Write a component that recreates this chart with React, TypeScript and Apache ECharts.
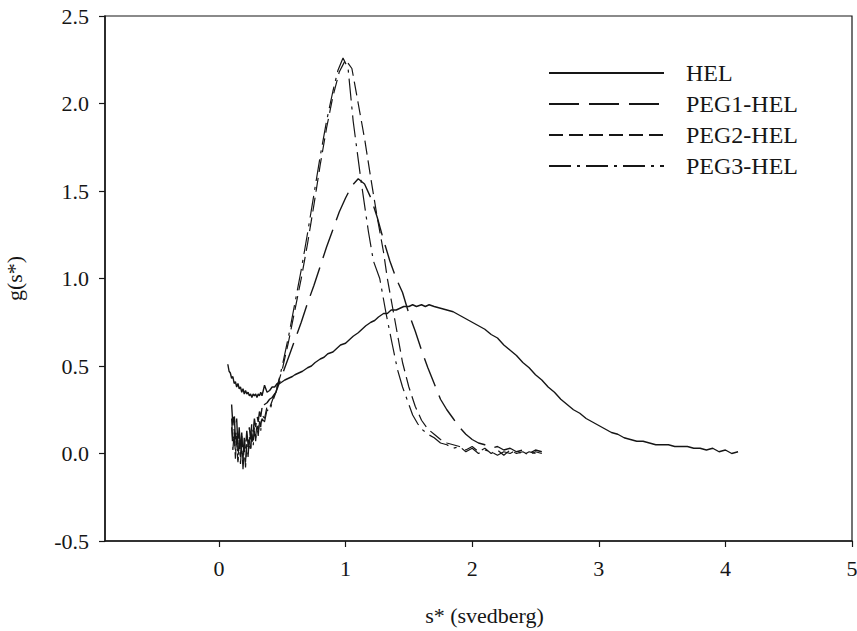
import React, { useEffect, useRef } from "react";
import * as echarts from "echarts";

// ---- data (s* in svedberg, g(s*)) ----
const seriesNames = ["HEL", "PEG1-HEL", "PEG2-HEL", "PEG3-HEL"];

const helData: number[][] = [
  [0.07, 0.51], [0.08, 0.47], [0.09, 0.46], [0.1, 0.43], [0.11, 0.44], [0.12, 0.4], [0.13, 0.41],
  [0.14, 0.38], [0.15, 0.4], [0.16, 0.37], [0.17, 0.38], [0.18, 0.35], [0.19, 0.37], [0.2, 0.34],
  [0.21, 0.36], [0.22, 0.34], [0.23, 0.35], [0.24, 0.33], [0.25, 0.34], [0.26, 0.32], [0.27, 0.34],
  [0.28, 0.33], [0.29, 0.34], [0.3, 0.32], [0.31, 0.34], [0.32, 0.33], [0.33, 0.35], [0.34, 0.33],
  [0.35, 0.36], [0.36, 0.39], [0.37, 0.37], [0.38, 0.35], [0.4, 0.36], [0.42, 0.38], [0.44, 0.38],
  [0.46, 0.4], [0.48, 0.4], [0.5, 0.41], [0.52, 0.42], [0.55, 0.43], [0.58, 0.44], [0.6, 0.45],
  [0.63, 0.46], [0.66, 0.47], [0.7, 0.49], [0.73, 0.5], [0.76, 0.52], [0.8, 0.54], [0.83, 0.55],
  [0.86, 0.57], [0.9, 0.58], [0.93, 0.6], [0.96, 0.62], [1.0, 0.63], [1.03, 0.65], [1.06, 0.67],
  [1.1, 0.69], [1.13, 0.71], [1.16, 0.73], [1.2, 0.75], [1.23, 0.76], [1.26, 0.78], [1.3, 0.8],
  [1.33, 0.8], [1.36, 0.82], [1.4, 0.82], [1.43, 0.83], [1.46, 0.84], [1.5, 0.84], [1.53, 0.85],
  [1.56, 0.84], [1.6, 0.85], [1.63, 0.84], [1.66, 0.85], [1.7, 0.84], [1.75, 0.83], [1.8, 0.82],
  [1.85, 0.81], [1.9, 0.79], [1.95, 0.77], [2.0, 0.75], [2.05, 0.73], [2.1, 0.71], [2.15, 0.68],
  [2.2, 0.66], [2.25, 0.62], [2.3, 0.59], [2.35, 0.56], [2.4, 0.52], [2.45, 0.49], [2.5, 0.45],
  [2.55, 0.42], [2.6, 0.38], [2.65, 0.35], [2.7, 0.31], [2.75, 0.28], [2.8, 0.25], [2.85, 0.23],
  [2.9, 0.2], [2.95, 0.18], [3.0, 0.16], [3.05, 0.14], [3.1, 0.12], [3.15, 0.11], [3.2, 0.09],
  [3.25, 0.08], [3.3, 0.07], [3.35, 0.07], [3.4, 0.06], [3.45, 0.05], [3.5, 0.05], [3.55, 0.05],
  [3.6, 0.04], [3.65, 0.04], [3.7, 0.04], [3.75, 0.03], [3.8, 0.03], [3.85, 0.02], [3.9, 0.03],
  [3.95, 0.01], [4.0, 0.02], [4.05, 0.0], [4.1, 0.01],
];

const peg1Data: number[][] = [
  [0.1, 0.28], [0.11, 0.16], [0.12, 0.24], [0.13, 0.08], [0.14, 0.2], [0.15, 0.04], [0.16, 0.15],
  [0.17, 0.01], [0.18, 0.12], [0.19, -0.02], [0.2, 0.09], [0.21, 0.02], [0.22, 0.13], [0.23, 0.05],
  [0.24, 0.15], [0.25, 0.08], [0.26, 0.18], [0.27, 0.12], [0.28, 0.2], [0.29, 0.15], [0.3, 0.22],
  [0.31, 0.18], [0.32, 0.24], [0.33, 0.21], [0.34, 0.26], [0.35, 0.24], [0.36, 0.28], [0.38, 0.29],
  [0.4, 0.31], [0.42, 0.32], [0.45, 0.35], [0.5, 0.45], [0.55, 0.55], [0.6, 0.65], [0.65, 0.75],
  [0.7, 0.86], [0.75, 0.96], [0.8, 1.07], [0.85, 1.18], [0.9, 1.28], [0.95, 1.38], [1.0, 1.46],
  [1.05, 1.53], [1.1, 1.57], [1.15, 1.54], [1.2, 1.46], [1.25, 1.35], [1.3, 1.22], [1.35, 1.1],
  [1.4, 1.0], [1.45, 0.92], [1.5, 0.8], [1.55, 0.7], [1.6, 0.59], [1.65, 0.49], [1.7, 0.4],
  [1.75, 0.31], [1.8, 0.25], [1.85, 0.2], [1.9, 0.15], [1.95, 0.11], [2.0, 0.08], [2.05, 0.06],
  [2.1, 0.05], [2.15, 0.03], [2.2, 0.04], [2.25, 0.02], [2.3, 0.03], [2.35, 0.01], [2.4, 0.02],
  [2.45, 0.0], [2.5, 0.02], [2.55, 0.01],
];

const peg2Data: number[][] = [
  [0.1, 0.15], [0.11, 0.02], [0.12, 0.12], [0.13, -0.03], [0.14, 0.08], [0.15, -0.05], [0.16, 0.06],
  [0.17, -0.02], [0.18, 0.1], [0.19, -0.06], [0.2, 0.04], [0.21, -0.08], [0.22, 0.05], [0.23, 0.0],
  [0.24, 0.1], [0.25, 0.03], [0.26, 0.12], [0.27, 0.06], [0.28, 0.15], [0.29, 0.09], [0.3, 0.17],
  [0.31, 0.12], [0.32, 0.19], [0.33, 0.15], [0.34, 0.22], [0.36, 0.2], [0.38, 0.27], [0.4, 0.26],
  [0.42, 0.3], [0.45, 0.36], [0.5, 0.48], [0.55, 0.64], [0.6, 0.82], [0.65, 1.0], [0.7, 1.2],
  [0.75, 1.42], [0.8, 1.65], [0.85, 1.86], [0.9, 2.04], [0.95, 2.18], [1.0, 2.25], [1.05, 2.2],
  [1.1, 2.0], [1.15, 1.8], [1.2, 1.57], [1.25, 1.35], [1.3, 1.15], [1.33, 1.0], [1.37, 0.84],
  [1.4, 0.72], [1.45, 0.52], [1.5, 0.38], [1.55, 0.27], [1.6, 0.19], [1.65, 0.14], [1.7, 0.11],
  [1.75, 0.08], [1.8, 0.06], [1.85, 0.05], [1.9, 0.04], [1.95, 0.02], [2.0, 0.04], [2.05, 0.01],
  [2.1, 0.03], [2.15, 0.0], [2.2, 0.02], [2.25, -0.01], [2.3, 0.02], [2.35, 0.0], [2.4, 0.01],
  [2.45, -0.01], [2.5, 0.01], [2.55, 0.0],
];

const peg3Data: number[][] = [
  [0.1, 0.2], [0.11, 0.06], [0.12, 0.14], [0.13, 0.0], [0.14, 0.1], [0.15, -0.04], [0.16, 0.08],
  [0.17, -0.06], [0.18, 0.05], [0.19, -0.09], [0.2, 0.02], [0.21, -0.05], [0.22, 0.07], [0.23, -0.02],
  [0.24, 0.08], [0.25, 0.01], [0.26, 0.11], [0.27, 0.04], [0.28, 0.13], [0.29, 0.07], [0.3, 0.16],
  [0.31, 0.1], [0.32, 0.18], [0.33, 0.13], [0.34, 0.2], [0.36, 0.18], [0.38, 0.25], [0.4, 0.24],
  [0.42, 0.29], [0.45, 0.35], [0.5, 0.5], [0.55, 0.67], [0.6, 0.86], [0.65, 1.05], [0.7, 1.26],
  [0.75, 1.48], [0.8, 1.7], [0.85, 1.9], [0.9, 2.07], [0.94, 2.19], [0.98, 2.26], [1.02, 2.2],
  [1.06, 1.9], [1.12, 1.57], [1.18, 1.27], [1.22, 1.1], [1.27, 1.0], [1.32, 0.8], [1.37, 0.62],
  [1.41, 0.48], [1.45, 0.38], [1.49, 0.3], [1.53, 0.22], [1.57, 0.17], [1.6, 0.14], [1.65, 0.11],
  [1.7, 0.09], [1.75, 0.06], [1.8, 0.05], [1.85, 0.03], [1.9, 0.04], [1.95, 0.01], [2.0, 0.03],
  [2.05, 0.0], [2.1, 0.02], [2.15, 0.01], [2.2, -0.01], [2.25, 0.01], [2.3, 0.0], [2.35, 0.02],
  [2.4, -0.01], [2.45, 0.01], [2.5, 0.0],
];

const xTicks = [0, 1, 2, 3, 4, 5];
const xMin = -0.9;
const xMax = 5;
const yMin = -0.5;
const yMax = 2.5;
const yStep = 0.5;

const FONT = "'Liberation Serif', 'Times New Roman', serif";
const INK = "#161616";

export default function App() {
  const ref = useRef<HTMLDivElement>(null);

  useEffect(() => {
    if (!ref.current) return;
    const chart = echarts.init(ref.current, undefined, { renderer: "svg" });
    const lineBase = { type: "line", symbol: "none", showSymbol: false, smooth: false, z: 3 };
    chart.setOption({
      animation: false,
      backgroundColor: "#ffffff",
      grid: {
        left: 105,
        right: 5,
        top: 16,
        bottom: 90,
        outerBoundsMode: "none",
        containLabel: false,
        show: true,
        borderColor: INK,
        borderWidth: 1.2,
        backgroundColor: "transparent",
      },
      legend: {
        orient: "vertical",
        left: 543,
        top: 56,
        itemWidth: 115,
        itemHeight: 14,
        itemGap: 7,
        selectedMode: false,
        data: seriesNames,
        itemStyle: { opacity: 0, borderWidth: 0 },
        textStyle: {
          fontFamily: FONT,
          fontSize: 24,
          color: INK,
          lineHeight: 24,
          padding: [0, 0, 0, 17],
        },
      },
      xAxis: {
        type: "value",
        min: xMin,
        max: xMax,
        name: "s* (svedberg)",
        nameLocation: "middle",
        nameGap: 63,
        nameTextStyle: { fontFamily: FONT, fontSize: 22, color: INK, padding: [0, 0, 0, 12] },
        splitLine: { show: false },
        axisLine: { onZero: false, lineStyle: { color: INK, width: 1.5 } },
        axisTick: { show: true, inside: false, length: 6, customValues: xTicks, lineStyle: { color: INK, width: 1.2 } },
        axisLabel: {
          customValues: xTicks,
          margin: 16,
          fontFamily: FONT,
          fontSize: 22,
          color: INK,
        },
      },
      yAxis: {
        type: "value",
        min: yMin,
        max: yMax,
        interval: yStep,
        name: "g(s*)",
        nameLocation: "middle",
        nameGap: 80,
        nameTextStyle: { fontFamily: FONT, fontSize: 22, color: INK },
        splitLine: { show: false },
        axisLine: { onZero: false, lineStyle: { color: INK, width: 1.5 } },
        axisTick: { show: true, inside: false, length: 6, lineStyle: { color: INK, width: 1.2 } },
        axisLabel: {
          margin: 16,
          fontFamily: FONT,
          fontSize: 22,
          color: INK,
          formatter: (v: number) => v.toFixed(1),
        },
      },
      series: [
        { ...lineBase, name: seriesNames[0], data: helData, lineStyle: { color: INK, width: 1.4, type: "solid" }, itemStyle: { color: INK } },
        { ...lineBase, name: seriesNames[1], data: peg1Data, lineStyle: { color: INK, width: 1.4, type: [30, 10] }, itemStyle: { color: INK } },
        { ...lineBase, name: seriesNames[2], data: peg2Data, lineStyle: { color: INK, width: 1.2, type: [14, 6] }, itemStyle: { color: INK } },
        { ...lineBase, name: seriesNames[3], data: peg3Data, lineStyle: { color: INK, width: 1.2, type: [22, 6, 3, 6] }, itemStyle: { color: INK } },
      ],
    });
    return () => chart.dispose();
  }, []);

  return (
    <div
      ref={ref}
      style={{ position: "fixed", left: 0, top: 0, width: 857, height: 631, background: "#fff" }}
    />
  );
}
